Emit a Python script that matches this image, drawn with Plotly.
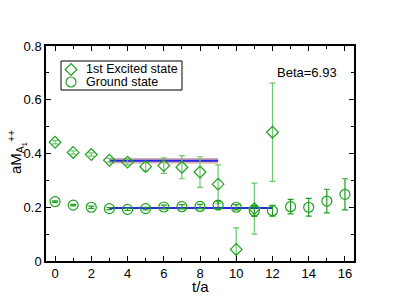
import plotly.graph_objects as go

t_exc = [0, 1, 2, 3, 4, 5, 6, 7, 8, 9, 10, 11, 12]
m_exc = [0.442, 0.404, 0.396, 0.375, 0.368, 0.351, 0.355, 0.349, 0.331, 0.286, 0.043, 0.195, 0.479]
e_exc = [0.006, 0.006, 0.006, 0.007, 0.010, 0.016, 0.029, 0.043, 0.057, 0.072, 0.080, 0.095, 0.183]

t_gnd = [0, 1, 2, 3, 4, 5, 6, 7, 8, 9, 10, 11, 12, 13, 14, 15, 16]
m_gnd = [0.221, 0.208, 0.200, 0.195, 0.192, 0.195, 0.201, 0.202, 0.203, 0.208, 0.200, 0.186, 0.187, 0.202, 0.200, 0.223, 0.248]
e_gnd = [0.003, 0.003, 0.004, 0.004, 0.004, 0.005, 0.007, 0.008, 0.008, 0.015, 0.010, 0.020, 0.020, 0.027, 0.033, 0.044, 0.058]

fit_exc_range = [3, 9]
fit_exc_val = 0.373
fit_exc_err = 0.010
fit_gnd_range = [3, 12]
fit_gnd_val = 0.197
fit_gnd_err = 0.003

legend_names = ["1st Excited state", "Ground state"]
legend_symbols = ["diamond-open", "circle-open"]

green = "rgb(30,160,30)"
errgreen = "rgb(110,200,110)"
FONT = "Liberation Sans, Arial"

# page body has an 8px default margin: figure is drawn at (8, 8)
OFF = 8
W, H = 399 - OFF, 308 - OFF
ML, MT = 46 - OFF, 46 - OFF
PW, PH = 308.0, 215.0
MR = W - ML - PW
MB = H - MT - PH

def px2paper(xp, yp):
    # xp, yp in window pixels
    return (xp - 46) / PW, (261 - yp) / PH

fig = go.Figure()

# fit bands
for (r, v, e, fc) in [(fit_exc_range, fit_exc_val, fit_exc_err, "rgba(185,120,125,0.6)"),
                      (fit_gnd_range, fit_gnd_val, fit_gnd_err, "rgba(170,90,170,0.5)")]:
    fig.add_trace(go.Scatter(x=[r[0], r[1], r[1], r[0], r[0]],
                             y=[v - e, v - e, v + e, v + e, v - e],
                             fill="toself", fillcolor=fc, line=dict(width=0),
                             mode="lines", showlegend=False, hoverinfo="skip"))
    fig.add_trace(go.Scatter(x=r, y=[v, v], mode="lines",
                             line=dict(color="rgb(40,40,230)", width=2),
                             showlegend=False, hoverinfo="skip"))

fig.add_trace(go.Scatter(x=t_exc, y=m_exc, mode="markers", name=legend_names[0], showlegend=False,
                         marker=dict(symbol=legend_symbols[0], size=9, color=green, line=dict(width=1.2)),
                         error_y=dict(type="data", array=e_exc, color=errgreen, thickness=1.2, width=3)))
fig.add_trace(go.Scatter(x=t_gnd, y=m_gnd, mode="markers", name=legend_names[1], showlegend=False,
                         marker=dict(symbol=legend_symbols[1], size=10, color=green, line=dict(width=1.2)),
                         error_y=dict(type="data", array=e_gnd, color=green, thickness=1.2, width=3)))

# manual legend (paper coordinates)
x0, y0 = px2paper(61, 61)
x1, y1 = px2paper(182, 90)
fig.add_shape(type="rect", xref="paper", yref="paper", x0=x0, y0=y1, x1=x1, y1=y0,
              line=dict(color="black", width=1), fillcolor="white", layer="below")
for i, (nm, sym) in enumerate(zip(legend_names, legend_symbols)):
    yc = 69.5 + 12.5 * i
    sx, sy = px2paper(71, yc)
    tx, ty = px2paper(84, yc)
    fig.add_trace(go.Scatter(x=[sx], y=[sy], xaxis="x2", yaxis="y2", mode="markers",
                             marker=dict(symbol=sym, size=9 if i == 0 else 10, color=green,
                                         line=dict(width=1.2)),
                             showlegend=False, hoverinfo="skip"))
    fig.add_annotation(xref="paper", yref="paper", x=tx, y=ty, xanchor="left", yanchor="middle",
                       text=nm, showarrow=False, font=dict(size=12.5, color="black", family=FONT))

fig.add_annotation(x=13.9, y=0.703, text="Beta=6.93", showarrow=False,
                   font=dict(size=13, color="black", family=FONT))

# axis titles as annotations
axx, axy = px2paper(200, 286)
fig.add_annotation(xref="paper", yref="paper", x=axx, y=axy, text="t/a", showarrow=False,
                   xanchor="center", yanchor="middle", font=dict(size=15, color="black", family=FONT))
ayx, ayy = px2paper(17, 152)
fig.add_annotation(xref="paper", yref="paper", x=ayx, y=ayy, textangle=-90,
                   text="aM<sub>A<sub>1</sub></sub><sup>++</sup>", showarrow=False,
                   xanchor="center", yanchor="middle", font=dict(size=15, color="black", family=FONT))

axis_common = dict(showline=True, linecolor="black", linewidth=1.5, mirror="ticks",
                   ticks="inside", ticklen=5, tickcolor="black", showgrid=False, zeroline=False,
                   automargin=False,
                   tickfont=dict(size=13, color="black", family=FONT))

fig.update_layout(
    width=W, height=H,
    margin=dict(l=ML, r=MR, t=MT, b=MB),
    plot_bgcolor="white", paper_bgcolor="white",
    font=dict(family=FONT, color="black"),
    showlegend=False,
    xaxis=dict(range=[-0.5, 16.5], dtick=2, tick0=0,
               minor=dict(dtick=1, ticks="inside", ticklen=3, tickcolor="black"),
               **axis_common),
    yaxis=dict(range=[0, 0.8], dtick=0.2, tick0=0, tickformat="~g",
               minor=dict(dtick=0.1, ticks="inside", ticklen=3, tickcolor="black"),
               **axis_common),
    xaxis2=dict(range=[0, 1], visible=False, overlaying="x", fixedrange=True),
    yaxis2=dict(range=[0, 1], visible=False, overlaying="y", fixedrange=True),
)

fig.write_html("out.html")
